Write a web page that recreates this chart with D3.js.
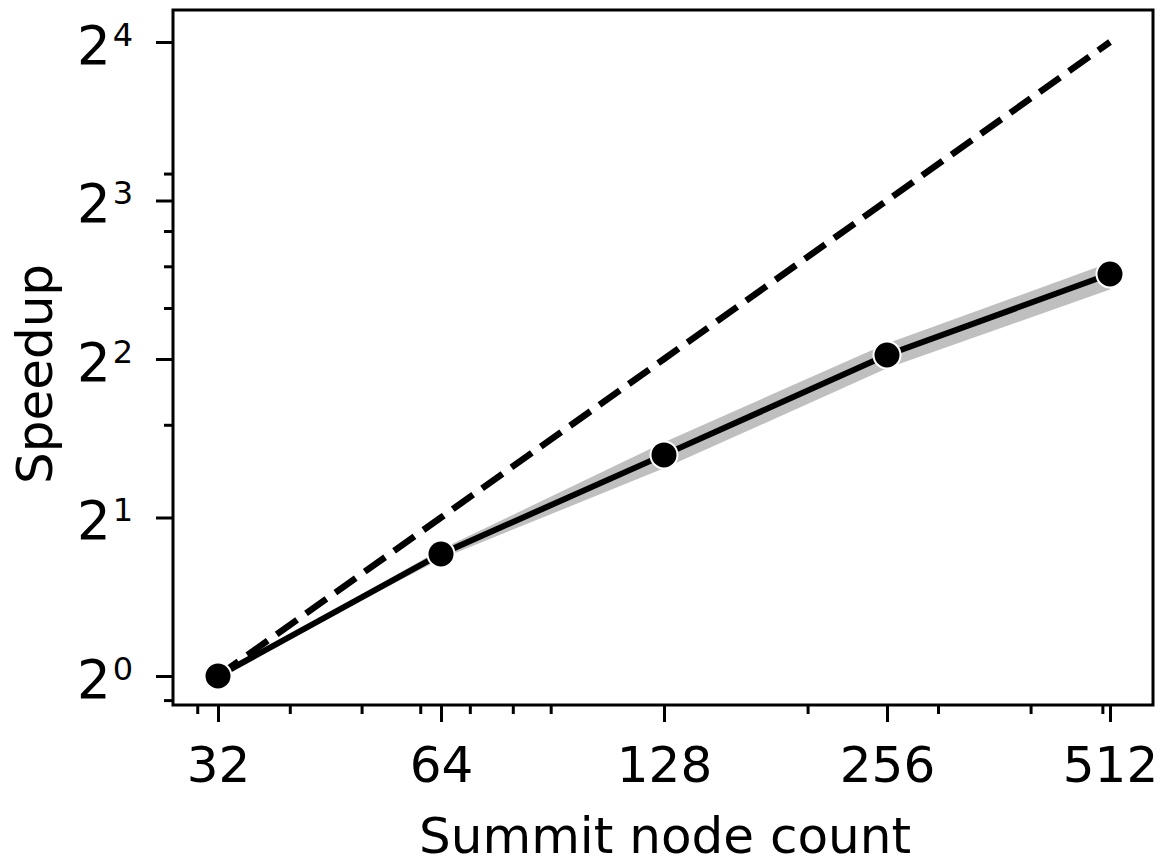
<!DOCTYPE html>
<html>
<head>
<meta charset="utf-8">
<script src="https://cdn.jsdelivr.net/npm/d3@7"></script>
<style>
  body { margin: 0; background: #fff; }
  text { font-family: "DejaVu Sans", sans-serif; fill: #000; }
</style>
</head>
<body>
<div id="chart"></div>
<script>
// data
var nodes = [32, 64, 128, 256, 512];
var speedup = [1.0, 1.705, 2.63, 4.07, 5.80];
var speedupLo = [1.0, 1.67, 2.48, 3.84, 5.42];
var speedupHi = [1.0, 1.74, 2.78, 4.28, 6.10];
var ideal = [1, 2, 4, 8, 16];

var xMajor = [32, 64, 128, 256, 512],
    xMinor = [30, 40, 50, 60, 70, 80, 90, 200, 300, 400, 500],
    yMajor = [1, 2, 4, 8, 16],
    yMinor = [0.9, 3, 5, 6, 7, 9];

var svg_dx = 1169, svg_dy = 865,
    margin = {top: 10, right: 16, bottom: 160, left: 173},
    width = svg_dx - margin.left - margin.right,
    height = svg_dy - margin.top - margin.bottom;

var x = d3.scaleLog().base(2).domain([32, 512]).range([45, 937]);
var y = d3.scaleLog().base(2).domain([1, 16]).range([666, 32]);

var svg = d3.select("#chart")
    .append("svg")
    .attr("width", svg_dx)
    .attr("height", svg_dy)
    .append("g")
    .attr("transform", "translate(" + margin.left + "," + margin.top + ")");

var rows = nodes.map(function (n, i) {
  return {n: n, s: speedup[i], lo: speedupLo[i], hi: speedupHi[i], ideal: ideal[i]};
});

// confidence band
svg.append("path")
   .datum(rows)
   .attr("d", d3.area()
       .x(function (d) { return x(d.n); })
       .y0(function (d) { return y(d.lo); })
       .y1(function (d) { return y(d.hi); }))
   .style("fill", "#000")
   .style("fill-opacity", 0.25);

// ideal scaling
svg.append("path")
   .datum(rows)
   .attr("d", d3.line()
       .x(function (d) { return x(d.n); })
       .y(function (d) { return y(d.ideal); }))
   .style("fill", "none")
   .style("stroke", "#000")
   .style("stroke-width", 6.5)
   .style("stroke-dasharray", "25,11");

// measured
svg.append("path")
   .datum(rows)
   .attr("d", d3.line()
       .x(function (d) { return x(d.n); })
       .y(function (d) { return y(d.s); }))
   .style("fill", "none")
   .style("stroke", "#000")
   .style("stroke-width", 6);

svg.selectAll("circle.pt")
   .data(rows)
   .enter()
   .append("circle")
   .attr("class", "pt")
   .attr("cx", function (d) { return x(d.n); })
   .attr("cy", function (d) { return y(d.s); })
   .attr("r", 13.5)
   .style("fill", "#000")
   .style("stroke", "#fff")
   .style("stroke-width", 2);

// minor ticks
svg.append("g")
   .attr("transform", "translate(0," + height + ")")
   .call(d3.axisBottom(x).tickValues(xMinor).tickSize(9).tickFormat(""))
   .call(function (g) { g.select(".domain").remove(); });

svg.append("g")
   .call(d3.axisLeft(y).tickValues(yMinor).tickSize(9).tickFormat(""))
   .call(function (g) { g.select(".domain").remove(); });

// major x axis
var gx = svg.append("g")
   .attr("transform", "translate(0," + height + ")")
   .call(d3.axisBottom(x).tickValues(xMajor).tickSize(17).tickPadding(24).tickFormat(d3.format("d")));
gx.select(".domain").remove();
gx.selectAll("text").style("font-size", "50px").style("font-family", "DejaVu Sans");

// major y axis, labels as 2^n
var gy = svg.append("g")
   .call(d3.axisLeft(y).tickValues(yMajor).tickSize(17).tickFormat(""));
gy.select(".domain").remove();
gy.selectAll(".tick").each(function (d) {
  var t = d3.select(this).append("text")
     .attr("x", -40)
     .attr("y", 21)
     .attr("text-anchor", "end")
     .style("font-size", "53px")
     .style("font-family", "DejaVu Sans");
  t.append("tspan").text("2");
  t.append("tspan")
   .attr("dx", 2)
   .attr("dy", -18)
   .style("font-size", "32px")
   .text(Math.round(Math.log2(d)));
});

svg.selectAll(".tick line").style("stroke", "#000").style("stroke-width", 3);

// frame
svg.append("rect")
   .attr("x", 0)
   .attr("y", 0)
   .attr("width", width)
   .attr("height", height)
   .style("fill", "none")
   .style("stroke", "#000")
   .style("stroke-width", 3);

// axis titles
svg.append("text")
   .attr("text-anchor", "middle")
   .attr("x", width / 2 + 2)
   .attr("y", height + 148)
   .style("font-size", "50px")
   .text("Summit node count");

svg.append("text")
   .attr("text-anchor", "middle")
   .attr("transform", "rotate(-90)")
   .attr("x", -364)
   .attr("y", -121)
   .style("font-size", "50px")
   .text("Speedup");
</script>
</body>
</html>
